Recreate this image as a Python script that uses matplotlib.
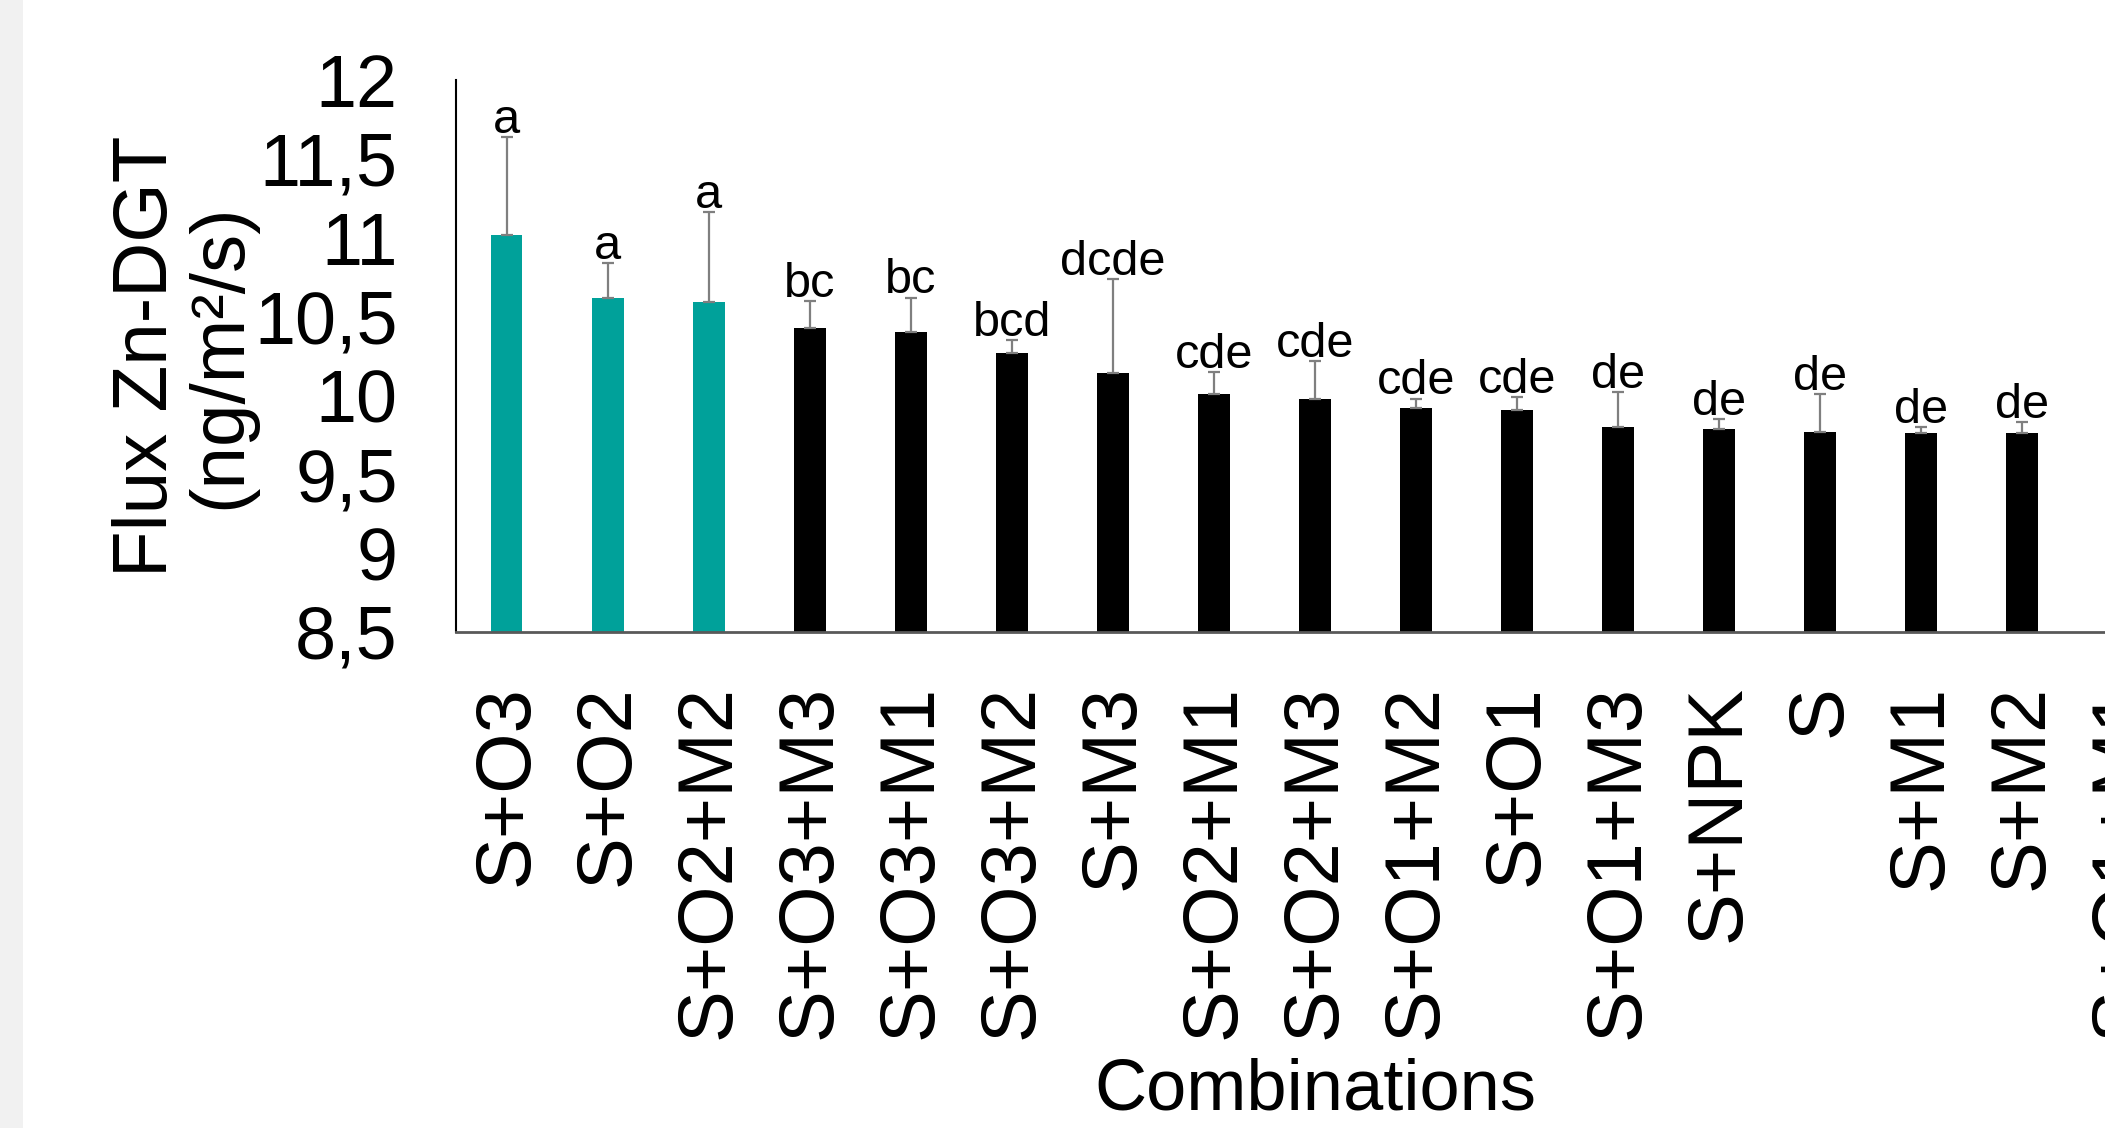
import numpy as np
import matplotlib
matplotlib.use("Agg")
import matplotlib.pyplot as plt
from matplotlib import font_manager
from matplotlib.patches import Rectangle

categories = ["S+O3", "S+O2", "S+O2+M2", "S+O3+M3", "S+O3+M1", "S+O3+M2", "S+M3",
              "S+O2+M1", "S+O2+M3", "S+O1+M2", "S+O1", "S+O1+M3", "S+NPK", "S",
              "S+M1", "S+M2", "S+O1+M1"]
means = [11.02, 10.62, 10.59, 10.43, 10.40, 10.27, 10.14, 10.01, 9.98, 9.92, 9.91,
         9.80, 9.79, 9.77, 9.76, 9.76, np.nan]
errors = [0.62, 0.22, 0.57, 0.17, 0.22, 0.08, 0.60, 0.14, 0.24, 0.06, 0.08,
          0.22, 0.06, 0.24, 0.04, 0.07, np.nan]
letters = ["a", "a", "a", "bc", "bc", "bcd", "dcde", "cde", "cde", "cde", "cde",
           "de", "de", "de", "de", "de", ""]
highlight = [True, True, True] + [False] * 14
yticks = [8.5, 9, 9.5, 10, 10.5, 11, 11.5, 12]
ytick_labels = ["8,5", "9", "9,5", "10", "10,5", "11", "11,5", "12"]

names = {f.name for f in font_manager.fontManager.ttflist}
REG = "Liberation Sans" if "Liberation Sans" in names else "DejaVu Sans"

W, H = 2105, 1128
fig = plt.figure(figsize=(W / 100, H / 100), dpi=100)
fig.patch.set_facecolor("white")
fig.patches.append(Rectangle((0, 0), 23 / W, 1, transform=fig.transFigure,
                             facecolor="#f1f1f1", edgecolor="none", zorder=0))

left, right, top, bottom = 456, 2174, 80, 632
ax = fig.add_axes([left / W, (H - bottom) / H, (right - left) / W, (bottom - top) / H])

x = np.arange(len(categories))
colors = ["#00a19a" if h else "#000000" for h in highlight]
means_arr = np.array(means, dtype=float)
err_arr = np.array(errors, dtype=float)
ok = np.isfinite(means_arr)

ax.bar(x[ok], means_arr[ok], width=0.315, color=np.array(colors)[ok], zorder=2)
ax.errorbar(x[ok], means_arr[ok], yerr=[np.zeros(ok.sum()), err_arr[ok]], fmt="none",
            ecolor="#7f7f7f", elinewidth=1.6, capsize=4, capthick=1.6, zorder=3)

for xi, m, e, lab in zip(x, means_arr, err_arr, letters):
    if lab and np.isfinite(m):
        ax.annotate(lab, (xi, m + e), xytext=(0, 3), textcoords="offset points",
                    ha="center", va="baseline", fontsize=35, family=REG, zorder=4)

ax.set_xlim(-0.5, len(categories) - 0.5)
ax.set_ylim(8.5, 12)
ax.set_yticks(yticks)
ax.set_yticklabels(ytick_labels, family=REG, fontsize=53)
ax.set_xticks(x)
ax.set_xticklabels(categories, rotation=90, family=REG, fontsize=56)
ax.tick_params(axis="both", length=0)
ax.tick_params(axis="y", pad=42)
ax.tick_params(axis="x", pad=38)

for s in ("top", "right"):
    ax.spines[s].set_visible(False)
ax.spines["left"].set_color("#000000")
ax.spines["left"].set_linewidth(1.5)
ax.spines["bottom"].set_color("#595959")
ax.spines["bottom"].set_linewidth(2)

ax.set_xlabel("Combinations", family=REG, fontsize=52)
ax.xaxis.set_label_coords(0.5, (bottom - 1110) / (bottom - top))
ax.xaxis.label.set_va("baseline")

ax.set_ylabel("Flux Zn-DGT\n(ng/m²/s)", family=REG, fontsize=55, linespacing=1.05)
ax.yaxis.label.set_va("center")
ax.yaxis.set_label_coords((184 - left) / (right - left), 0.5)

fig.savefig("out.png", dpi=100)
